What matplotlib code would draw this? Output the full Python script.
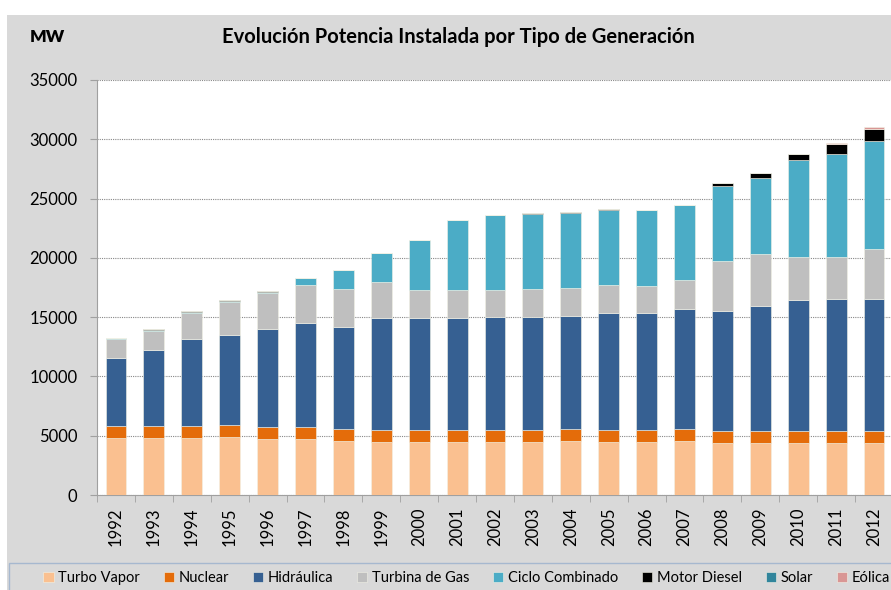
import matplotlib.pyplot as plt
import numpy as np
from matplotlib.patches import Rectangle

years = [str(y) for y in range(1992, 2013)]

turbo_vapor = [4810, 4810, 4810, 4860, 4760, 4700, 4530, 4500, 4500, 4500, 4500,
               4500, 4520, 4470, 4470, 4560, 4410, 4410, 4410, 4410, 4410]
nuclear = [1010] * 21
hidraulica = [5750, 6390, 7350, 7640, 8240, 8780, 8640, 9430, 9430, 9410, 9490,
              9490, 9580, 9910, 9860, 10100, 10110, 10480, 11010, 11070, 11150]
turbina_gas = [1600, 1660, 2170, 2730, 3010, 3180, 3180, 3040, 2320, 2330, 2250,
               2390, 2360, 2280, 2280, 2480, 4170, 4430, 3620, 3620, 4160]
ciclo_combinado = [60, 80, 100, 140, 110, 590, 1580, 2390, 4235, 5920, 6350,
                   6350, 6350, 6380, 6380, 6290, 6340, 6410, 8170, 8660, 9130]
motor_diesel = [40, 40, 40, 40, 40, 40, 40, 40, 40, 40, 40,
                40, 40, 40, 40, 40, 260, 420, 560, 840, 1030]
solar = [0] * 19 + [5, 10]
eolica = [0] * 19 + [80, 110]

series = [
    ('Turbo Vapor', turbo_vapor, '#FAC090'),
    ('Nuclear', nuclear, '#E46C0A'),
    ('Hidráulica', hidraulica, '#366092'),
    ('Turbina de Gas', turbina_gas, '#BFBFBF'),
    ('Ciclo Combinado', ciclo_combinado, '#4BACC6'),
    ('Motor Diesel', motor_diesel, '#000000'),
    ('Solar', solar, '#31859C'),
    ('Eólica', eolica, '#D99694'),
]

plt.rcParams['font.family'] = ['Lato', 'DejaVu Sans']

W, H = 891, 590
fig = plt.figure(figsize=(W / 100, H / 100), dpi=100, facecolor='white')
fig.patches.append(Rectangle((7 / W, 0), 1, (H - 15) / H, transform=fig.transFigure,
                             facecolor='#D9D9D9', edgecolor='none', zorder=-10))

ax = fig.add_axes([97 / W, (H - 495) / H, 796 / W, 415 / H])
ax.set_facecolor('white')

x = np.arange(len(years))
bottom = np.zeros(len(years))
handles = []
for name, vals, color in series:
    vals = np.array(vals, dtype=float)
    b = ax.bar(x, vals, 0.55, bottom=bottom, color=color, label=name,
               edgecolor='#F2F2E6', linewidth=0.4, zorder=3)
    handles.append(b)
    bottom += vals

ax.set_xlim(-0.5, len(years) - 0.5)
ax.set_ylim(0, 35000)
ax.set_yticks(np.arange(0, 35001, 5000))
ax.yaxis.grid(True, linestyle=(0, (1, 1)), color='#888888', linewidth=0.8, zorder=0)
ax.tick_params(axis='y', length=5, color='#A0A0A0', labelsize=12, pad=9)

ax.set_xticks(x)
ax.set_xticklabels(years, rotation=90, fontsize=12)
ax.set_xticks(np.arange(-0.5, len(years), 1), minor=True)
ax.tick_params(axis='x', which='major', length=0, pad=9)
ax.tick_params(axis='x', which='minor', length=5, color='#A0A0A0')

for s in ['top', 'right']:
    ax.spines[s].set_visible(False)
for s in ['left', 'bottom']:
    ax.spines[s].set_color('#A0A0A0')

fig.text(30 / W, 1 - 37 / H, 'MW', fontsize=12.5, fontweight='heavy', va='center')
fig.text(458 / W, 1 - 37 / H, 'Evolución Potencia Instalada por Tipo de Generación',
         fontsize=14.5, fontweight='bold', ha='center', va='center')

fig.patches.append(Rectangle((9 / W, -0.1), 1, (H - 563) / H + 0.1, transform=fig.transFigure,
                             facecolor='none', edgecolor='#A6B8CF', linewidth=1, zorder=5))
fig.legend(handles=handles, loc='center left', bbox_to_anchor=(36 / W, 12 / H), ncol=8,
           frameon=False, fontsize=10.5, handlelength=0.7, handleheight=0.7,
           handletextpad=0.3, columnspacing=1.65, borderpad=0)

fig.savefig('out.png', dpi=100, facecolor=fig.get_facecolor())
